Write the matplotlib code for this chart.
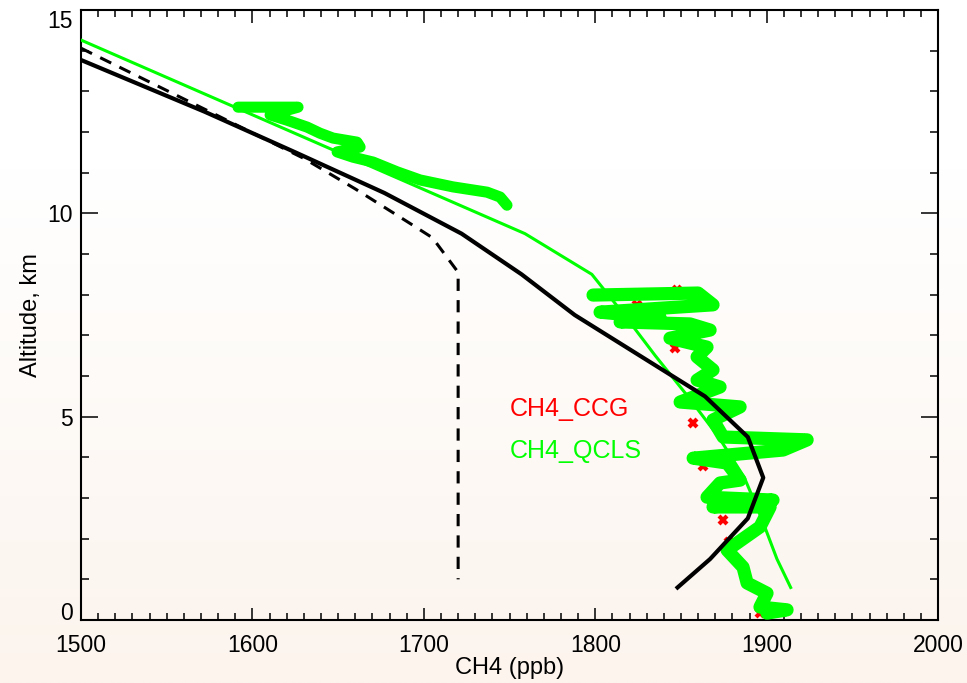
import numpy as np
import matplotlib
matplotlib.use('Agg')
import matplotlib.pyplot as plt
from matplotlib.ticker import MultipleLocator

plt.rcParams['font.family'] = ['Liberation Sans', 'DejaVu Sans']

# model profile (solid black)
model_x = [1500, 1572, 1625, 1677, 1722, 1757, 1788, 1826, 1864, 1889, 1898, 1889, 1867, 1848]
model_y = [13.77, 12.5, 11.5, 10.5, 9.5, 8.5, 7.5, 6.5, 5.5, 4.5, 3.5, 2.5, 1.5, 0.8]

# prior profile (dashed black)
prior_x = [1500, 1575, 1630, 1660, 1692, 1705, 1720, 1720]
prior_y = [14.06, 12.5, 11.35, 10.6, 9.75, 9.4, 8.55, 1.0]

# second model profile (thin green)
model2_x = [1500, 1759, 1798, 1817, 1835, 1854, 1872, 1887, 1897, 1906, 1914]
model2_y = [14.26, 9.5, 8.5, 7.5, 6.5, 5.5, 4.5, 3.5, 2.5, 1.5, 0.8]

# QCLS aircraft observations, upper leg
qcls_hi_x = [1591.6, 1626.6, 1610.3, 1620.2, 1631.9, 1639.4, 1647.0, 1661.0, 1662.8, 1649.4,
             1658.7, 1670.4, 1684.4, 1697.8, 1717.0, 1736.9, 1744.5, 1748.5]
qcls_hi_y = [12.61, 12.61, 12.42, 12.29, 12.12, 11.97, 11.85, 11.75, 11.63, 11.51,
             11.38, 11.26, 11.02, 10.82, 10.65, 10.52, 10.40, 10.20]

# QCLS aircraft observations, lower leg
qcls_lo_x = [1798.7, 1860.0, 1868.7, 1802.8, 1837.8, 1814.5, 1855.3, 1867.0, 1843.6, 1865.2,
             1859.4, 1868.7, 1859.4, 1872.8, 1849.5, 1884.5, 1868.7, 1874.6, 1923.6, 1909.6,
             1857.1, 1876.9, 1884.5, 1872.8, 1865.2, 1903.7, 1868.7, 1902.0, 1896.1, 1876.9,
             1886.2, 1888.6, 1900.2, 1896.1, 1911.9, 1900.2]
qcls_lo_y = [7.99, 8.04, 7.75, 7.57, 7.43, 7.33, 7.28, 7.13, 6.93, 6.71,
             6.47, 6.15, 5.90, 5.73, 5.36, 5.24, 4.92, 4.50, 4.43, 4.18,
             3.98, 3.86, 3.44, 3.37, 3.02, 2.95, 2.78, 2.78, 2.29, 1.72,
             1.30, 0.91, 0.66, 0.32, 0.25, 0.17]

# CCG flask samples
ccg_x = [1847.7, 1824.4, 1846.6, 1857.0, 1862.9, 1874.6, 1878.0, 1896.0]
ccg_y = [8.11, 7.75, 6.69, 4.84, 3.79, 2.46, 1.92, 0.17]

yticks = [0, 5, 10, 15]

fig = plt.figure(figsize=(9.67, 6.83), dpi=100)

# soft white-to-peach background
bg = fig.add_axes([0, 0, 1, 1], zorder=-10)
top = np.array([1.0, 1.0, 1.0])
bot = np.array([252, 244, 237]) / 255.0
t = np.clip((np.linspace(0, 1, 256) - 0.25) / 0.75, 0, 1)[:, None]
grad = top * (1 - t) + bot * t
bg.imshow(np.repeat(grad[:, None, :], 2, axis=1), aspect='auto', extent=[0, 1, 0, 1])
bg.axis('off')

ax = fig.add_axes([0.0838, 0.0922, 0.8863, 0.8932])
ax.set_facecolor('none')

ax.plot(ccg_x, ccg_y, linestyle='none', marker='x', color='red', ms=6, mew=3, zorder=2)
ax.plot(qcls_hi_x, qcls_hi_y, color='#00ff00', lw=8, solid_capstyle='round',
        solid_joinstyle='round', zorder=3)
ax.plot(qcls_lo_x, qcls_lo_y, color='#00ff00', lw=9.5, solid_capstyle='round',
        solid_joinstyle='round', zorder=3)
ax.plot(model2_x, model2_y, color='#00ff00', lw=2.2, zorder=4)
ax.plot(prior_x, prior_y, color='black', lw=2.2, linestyle=(0, (4, 3)), zorder=5)
ax.plot(model_x, model_y, color='black', lw=3, zorder=6)

ax.text(1750, 5.2, 'CH4_CCG', color='red', fontsize=18, va='center')
ax.text(1750, 4.15, 'CH4_QCLS', color='#00ff00', fontsize=18, va='center')

ax.set_xlim(1500, 2000)
ax.set_ylim(0, 15)
ax.xaxis.set_major_locator(MultipleLocator(100))
ax.xaxis.set_minor_locator(MultipleLocator(10))
ax.set_yticks(yticks)
ax.yaxis.set_minor_locator(MultipleLocator(1))
ax.tick_params(which='both', direction='in', top=True, right=True, labelsize=16.5, width=1.1)
ax.tick_params(axis='x', which='major', length=9, pad=10)
ax.tick_params(axis='x', which='minor', length=5)
ax.tick_params(axis='y', which='major', length=12, pad=6)
ax.tick_params(axis='y', which='minor', length=6)
for s in ax.spines.values():
    s.set_linewidth(1.5)

# end labels sit inside the axis range, as in the original
ytk = ax.yaxis.get_major_ticks()
ytk[0].label1.set_verticalalignment('baseline')
ytk[-1].label1.set_verticalalignment('top')

ax.set_xlabel('CH4 (ppb)', fontsize=17, labelpad=0)
ax.set_ylabel('Altitude, km', fontsize=17, labelpad=4)

fig.savefig('out.png', dpi=100)
